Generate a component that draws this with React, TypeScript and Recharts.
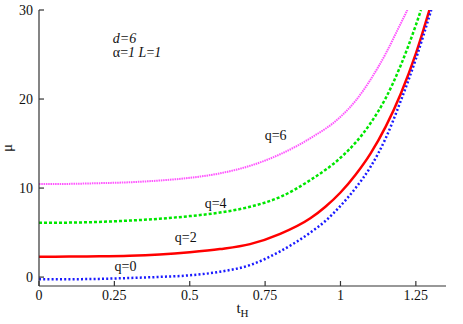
import React from "react";
import { LineChart, Line, XAxis, YAxis, ReferenceDot, Label } from "recharts";

const xTicks = [0, 0.25, 0.5, 0.75, 1, 1.25];
const yTicks = [0, 10, 20, 30];

const q0 = [
  { t: 0, mu: -0.25 }, { t: 0.1, mu: -0.24 }, { t: 0.2, mu: -0.2 }, { t: 0.3, mu: -0.1 },
  { t: 0.4, mu: 0.02 }, { t: 0.5, mu: 0.2 }, { t: 0.6, mu: 0.6 }, { t: 0.7, mu: 1.35 },
  { t: 0.8, mu: 2.9 }, { t: 0.9, mu: 5.0 }, { t: 0.95, mu: 6.3 }, { t: 1.0, mu: 8.0 },
  { t: 1.05, mu: 10.0 }, { t: 1.1, mu: 12.4 }, { t: 1.15, mu: 15.6 }, { t: 1.2, mu: 19.8 },
  { t: 1.25, mu: 24.5 }, { t: 1.301, mu: 30 },
];
const q2 = [
  { t: 0, mu: 2.28 }, { t: 0.1, mu: 2.3 }, { t: 0.2, mu: 2.33 }, { t: 0.3, mu: 2.4 },
  { t: 0.4, mu: 2.55 }, { t: 0.5, mu: 2.8 }, { t: 0.6, mu: 3.15 }, { t: 0.7, mu: 3.7 },
  { t: 0.8, mu: 4.85 }, { t: 0.9, mu: 6.6 }, { t: 0.95, mu: 7.9 }, { t: 1.0, mu: 9.5 },
  { t: 1.05, mu: 11.5 }, { t: 1.1, mu: 13.9 }, { t: 1.15, mu: 16.9 }, { t: 1.2, mu: 20.6 },
  { t: 1.25, mu: 25.1 }, { t: 1.295, mu: 30 },
];
const q4 = [
  { t: 0, mu: 6.1 }, { t: 0.1, mu: 6.12 }, { t: 0.2, mu: 6.2 }, { t: 0.3, mu: 6.35 },
  { t: 0.4, mu: 6.55 }, { t: 0.5, mu: 6.85 }, { t: 0.6, mu: 7.25 }, { t: 0.7, mu: 7.9 },
  { t: 0.8, mu: 9.0 }, { t: 0.9, mu: 10.9 }, { t: 1.0, mu: 13.4 }, { t: 1.05, mu: 15.1 },
  { t: 1.1, mu: 17.3 }, { t: 1.15, mu: 20.1 }, { t: 1.2, mu: 23.8 }, { t: 1.25, mu: 28.3 },
  { t: 1.267, mu: 30 },
];
const q6 = [
  { t: 0, mu: 10.45 }, { t: 0.1, mu: 10.47 }, { t: 0.2, mu: 10.55 }, { t: 0.3, mu: 10.65 },
  { t: 0.4, mu: 10.85 }, { t: 0.5, mu: 11.15 }, { t: 0.6, mu: 11.65 }, { t: 0.7, mu: 12.5 },
  { t: 0.8, mu: 13.8 }, { t: 0.9, mu: 15.6 }, { t: 1.0, mu: 18.0 }, { t: 1.05, mu: 19.8 },
  { t: 1.1, mu: 22.2 }, { t: 1.15, mu: 25.1 }, { t: 1.2, mu: 28.5 }, { t: 1.222, mu: 30 },
];

const curveLabels = [
  { t: 0.785, mu: 15.39, text: "q=6" },
  { t: 0.586, mu: 7.75, text: "q=4" },
  { t: 0.487, mu: 3.9, text: "q=2" },
  { t: 0.287, mu: 0.67, text: "q=0" },
];

const FONT = "Liberation Serif";
const AX = "#333";
const TS = { fontFamily: FONT };

const fmtX = (v: number) => String(v);
const noTick = () => <g />;

export default function App() {
  return (
    <div style={{ position: "absolute", left: 0, top: 0, background: "#fff", fontFamily: FONT }}>
      <LineChart
        width={463}
        height={324}
        margin={{ top: 10, right: 17, left: 0, bottom: 0 }}
        style={{ fontFamily: FONT }}
      >
        <XAxis
          xAxisId="b"
          dataKey="t"
          type="number"
          domain={[0, 1.35]}
          ticks={xTicks}
          tickFormatter={fmtX}
          allowDataOverflow
          height={38}
          tickSize={-5}
          tickMargin={9}
          stroke={AX}
          strokeWidth={1.2}
          tick={{ fill: "#111", fontSize: 14, fontFamily: FONT, style: TS }}
          interval={0}
        >
          <Label
            content={(p: any) => {
              const vb = p.viewBox || {};
              return (
                <text x={vb.x + vb.width / 2} y={313} textAnchor="middle" fontFamily={FONT} style={TS} fontSize={15} fill="#111">
                  t<tspan dy={4} fontSize={11}>H</tspan>
                </text>
              );
            }}
          />
        </XAxis>
        <XAxis
          xAxisId="t"
          orientation="top"
          dataKey="t"
          type="number"
          domain={[0, 1.35]}
          ticks={xTicks}
          allowDataOverflow
          height={0}
          tickSize={-5}
          tick={noTick}
          stroke={AX}
          strokeWidth={1.2}
          interval={0}
        />
        <YAxis
          yAxisId="l"
          type="number"
          domain={[-1, 30]}
          ticks={yTicks}
          allowDataOverflow
          width={39}
          tickSize={-5}
          tickMargin={11}
          stroke={AX}
          strokeWidth={1.2}
          tick={{ fill: "#111", fontSize: 14, fontFamily: FONT, style: TS }}
          interval={0}
        >
          <Label
            content={(p: any) => {
              const vb = p.viewBox || {};
              const cy = vb.y + vb.height / 2;
              return (
                <text x={12} y={cy} textAnchor="middle" fontFamily={FONT} style={TS} fontSize={15} fill="#111" transform={`rotate(-90 12 ${cy})`}>
                  μ
                </text>
              );
            }}
          />
        </YAxis>
        <YAxis
          yAxisId="r"
          orientation="right"
          type="number"
          domain={[-1, 30]}
          ticks={yTicks}
          allowDataOverflow
          width={0}
          tickSize={-5}
          tick={noTick}
          stroke={AX}
          strokeWidth={1.2}
          interval={0}
        />
        <Line xAxisId="b" yAxisId="l" data={q6} dataKey="mu" type="monotone" stroke="#ff55ff" strokeWidth={2} strokeDasharray="1.5 0.8" dot={false} isAnimationActive={false} />
        <Line xAxisId="b" yAxisId="l" data={q4} dataKey="mu" type="monotone" stroke="#00e600" strokeWidth={2.5} strokeDasharray="3 2" dot={false} isAnimationActive={false} />
        <Line xAxisId="b" yAxisId="l" data={q2} dataKey="mu" type="monotone" stroke="#ff0000" strokeWidth={2.5} dot={false} isAnimationActive={false} />
        <Line xAxisId="b" yAxisId="l" data={q0} dataKey="mu" type="monotone" stroke="#1a1aff" strokeWidth={2.5} strokeDasharray="2 2.2" dot={false} isAnimationActive={false} />
        {curveLabels.map((c) => (
          <ReferenceDot
            key={c.text}
            xAxisId="b"
            yAxisId="l"
            x={c.t}
            y={c.mu}
            r={0}
            shape={(p: any) => (
              <text x={p.cx} y={p.cy} textAnchor="middle" fontFamily={FONT} style={TS} fontSize={14} fill="#111">
                {c.text}
              </text>
            )}
          />
        ))}
        <ReferenceDot
          xAxisId="b"
          yAxisId="l"
          x={0.245}
          y={26.24}
          r={0}
          shape={(p: any) => (
            <text x={p.cx} y={p.cy} textAnchor="start" fontFamily={FONT} style={TS} fontSize={14} fill="#111" fontStyle="italic">
              d=6
            </text>
          )}
        />
        <ReferenceDot
          xAxisId="b"
          yAxisId="l"
          x={0.245}
          y={24.72}
          r={0}
          shape={(p: any) => (
            <text x={p.cx} y={p.cy} textAnchor="start" fontFamily={FONT} style={TS} fontSize={14} fill="#111">
              α=<tspan fontStyle="italic">1 L</tspan>=<tspan fontStyle="italic">1</tspan>
            </text>
          )}
        />
      </LineChart>
    </div>
  );
}
